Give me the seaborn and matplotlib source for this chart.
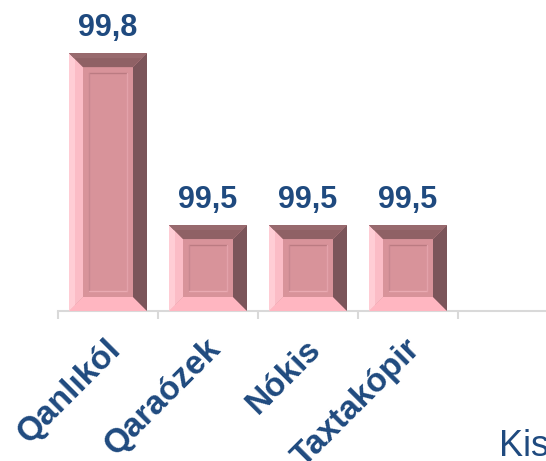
import numpy as np
import matplotlib
matplotlib.use("Agg")
import matplotlib.pyplot as plt
from matplotlib.patches import Polygon
from matplotlib.lines import Line2D
from matplotlib.transforms import ScaledTranslation
import seaborn as sns

regions = ["Qanlıkól", "Qaraózek", "Nókis", "Taxtakópir"]
values = [99.8, 99.5, 99.5, 99.5]
value_labels = ["99,8", "99,5", "99,5", "99,5"]
extra_label = "Kis"

BLUE = "#1f4a7f"
FACE = "#d8939a"
GRID = "#d9d9d9"

sns.set_theme(style="white")
plt.rcParams['font.family'] = ['Liberation Sans', 'DejaVu Sans']

fig = plt.figure(figsize=(5.46, 4.61), dpi=100)
ax = fig.add_axes([58 / 546, 150 / 461, 500 / 546, 311 / 461])

sns.barplot(x=regions, y=values, color=FACE, saturation=1, width=0.78, ax=ax)
ax.set_xlim(-0.5, 4.5)
ax.set_ylim(99.35, 99.35 + 311 / 573)

# bevelled "3D" look on each bar, built in pixel space from the bar extents
to_ax = ax.transAxes.inverted()
bev = 14
rim = 20
ymin = ax.get_ylim()[0]
for p in ax.patches:
    x0 = p.get_x()
    x1 = x0 + p.get_width()
    top = p.get_y() + p.get_height()
    (L, B), (R, T) = ax.transData.transform([(x0, ymin), (x1, top)])
    p.set_edgecolor("none")

    def poly(pts, c):
        ax.add_patch(Polygon(to_ax.transform(pts), closed=True, facecolor=c,
                             edgecolor="none", transform=ax.transAxes, zorder=3))

    poly([(L, B), (R, B), (R - bev, B + bev), (L + bev, B + bev)], "#ffb6c1")
    poly([(L, T), (L, B), (L + bev, B + bev), (L + bev, T - bev)], "#fbbcc6")
    poly([(L, T), (L, B), (L + 6, B + 6), (L + 6, T - 6)], "#ffcdd5")
    poly([(R, T), (R, B), (R - bev, B + bev), (R - bev, T - bev)], "#7b555a")
    poly([(L, T), (R, T), (R - bev, T - bev), (L + bev, T - bev)], "#8f6165")
    poly([(L, T), (R, T), (R - 5, T - 5), (L + 5, T - 5)], "#986a6e")

    il, ir, ib, it = L + rim, R - rim, B + rim, T - rim
    for xs, ys, c in [([il, ir], [it, it], "#bb7b82"),
                      ([il, il], [ib, it], "#c88890"),
                      ([il, ir], [ib, ib], "#eaaab2"),
                      ([ir, ir], [ib, it], "#e3a2aa")]:
        pts = to_ax.transform(np.column_stack([xs, ys]))
        ax.add_line(Line2D(pts[:, 0], pts[:, 1], color=c, lw=1.0,
                           transform=ax.transAxes, zorder=4))

for i, (v, lab) in enumerate(zip(values, value_labels)):
    ax.annotate(lab, (i, v), xytext=(0, 7), textcoords="offset points",
                ha="center", va="bottom", fontsize=22, fontweight="bold",
                color=BLUE)

sns.despine(ax=ax, left=True)
ax.spines["bottom"].set_color(GRID)
ax.spines["bottom"].set_linewidth(1.5)
ax.set_yticks([])
ax.set_ylabel("")

ax.set_xticks(range(len(regions)))
ax.set_xticks(np.arange(-0.5, 5, 1), minor=True)
ax.set_xticklabels(regions, rotation=45, ha="right", va="top",
                   rotation_mode="anchor", fontsize=24, fontweight="bold",
                   color=BLUE)
ax.tick_params(axis="x", which="major", length=0, pad=16)
ax.tick_params(axis="x", which="minor", length=6, width=1.5, color=GRID,
               bottom=True)
offset = ScaledTranslation(-3 / 100, 0, fig.dpi_scale_trans)
for t in ax.get_xticklabels():
    t.set_transform(t.get_transform() + offset)

fig.text(499 / 546, 1 - 429 / 461, extra_label, ha="left", va="top",
         fontsize=26, color=BLUE)

fig.savefig("out.png", dpi=100)
